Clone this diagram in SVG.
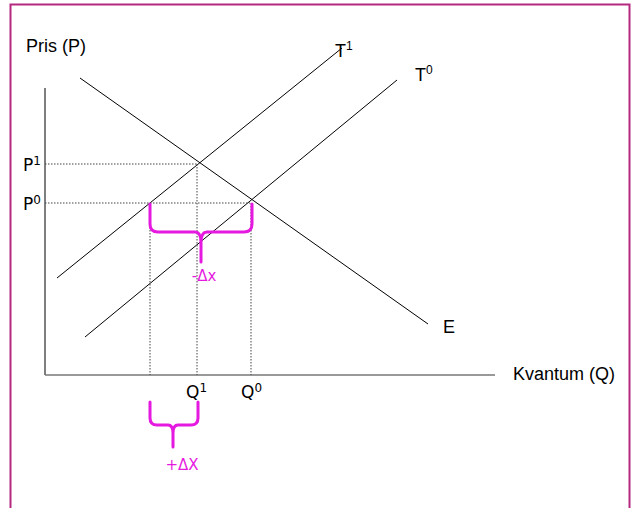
<svg xmlns="http://www.w3.org/2000/svg" width="632" height="508" viewBox="0 0 632 508">
<style>
.lbl{font-family:"Liberation Sans",Arial,sans-serif;font-size:18px;fill:#000}
.lbl2{font-family:"DejaVu Sans",Verdana,sans-serif;font-size:17px;fill:#000}
.sup{font-size:12px}
.mag{font-family:"DejaVu Sans",Verdana,sans-serif;font-size:15px;fill:#E619E0}
.curve{stroke:#000;stroke-width:1;fill:none}
.dot{stroke:#444;stroke-width:1;stroke-dasharray:1.5,1.5;fill:none}
.brace{stroke:#E619E0;stroke-width:3;fill:none;stroke-linecap:round;stroke-linejoin:round}
</style>
<rect x="0" y="0" width="632" height="508" fill="#fff"/>
<rect x="10.5" y="4.5" width="619" height="520" fill="none" stroke="#B4287F" stroke-width="2"/>
<g id="axes">
<line x1="45" y1="88" x2="45" y2="375" stroke="#555" stroke-width="1.5"/>
<line x1="45" y1="375" x2="495" y2="375" stroke="#777" stroke-width="1.5"/>
</g>
<g id="connectors">
<line id="E" class="curve" x1="80" y1="78" x2="428" y2="324"/>
<line id="T1" class="curve" x1="57" y1="278" x2="342" y2="48"/>
<line id="T0" class="curve" x1="85" y1="337" x2="397" y2="80"/>
<line class="dot" x1="45" y1="164" x2="197" y2="164"/>
<line class="dot" x1="45" y1="203" x2="250" y2="203"/>
<line class="dot" x1="150" y1="203" x2="150" y2="375"/>
<line class="dot" x1="197" y1="164" x2="197" y2="375"/>
<line class="dot" x1="251" y1="203" x2="251" y2="375"/>
</g>
<g id="brace-upper">
<path class="brace" d="M150,204 L150,224 Q150,232 158,232 L195,232 Q201,232 201,242 L201,262 M201,242 Q201,232 207,232 L244,232 Q252,232 252,224 L252,204"/>
<text class="mag" x="204" y="281" text-anchor="middle">-Δx</text>
</g>
<g id="brace-lower">
<path class="brace" d="M150,402 L150,418 Q150,425 157,425 L168,425 Q173,425 173,433 L173,447 M173,433 Q173,425 178,425 L191,425 Q198,425 198,418 L198,402"/>
<text class="mag" x="182" y="470" text-anchor="middle">+ΔX</text>
</g>
<g id="labels">
<text class="lbl" x="335" y="57">T<tspan class="sup" dy="-7">1</tspan></text>
<text class="lbl" x="26" y="52">Pris (P)</text>
<text class="lbl" x="415" y="81">T<tspan class="sup" dy="-7">0</tspan></text>
<text class="lbl" x="443" y="333">E</text>
<text class="lbl" x="513" y="380">Kvantum (Q)</text>
<text class="lbl2" x="23" y="171">P<tspan class="sup" dy="-6">1</tspan></text>
<text class="lbl2" x="23" y="210">P<tspan class="sup" dy="-6">0</tspan></text>
<text class="lbl2" x="186" y="398">Q<tspan class="sup" dy="-6">1</tspan></text>
<text class="lbl2" x="241" y="398">Q<tspan class="sup" dy="-6">0</tspan></text>
</g>
</svg>
